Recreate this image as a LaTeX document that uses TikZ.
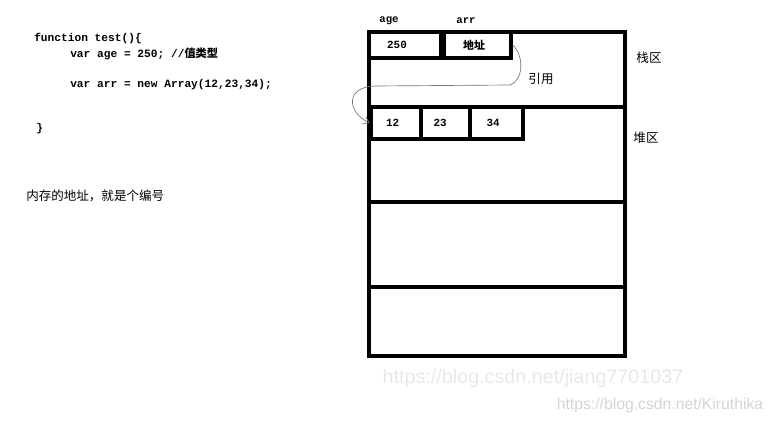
\documentclass[tikz,border=0pt]{standalone}
\usepackage{fontspec}
\setmainfont{Liberation Sans}
\newfontfamily\codefont{Liberation Mono}
\newfontfamily\cjk{Noto Sans CJK SC}
\usetikzlibrary{arrows.meta}

\begin{document}
\begin{tikzpicture}[x=0.75pt, y=-0.75pt,
    wall/.style={line width=2.6pt},
    cell/.style={draw=black, line width=2.4pt, inner sep=0pt, minimum height=19.5pt,
        font=\codefont\bfseries\fontsize{8.2}{9}\selectfont},
    code/.style={anchor=west, inner sep=0pt, font=\codefont\bfseries\fontsize{8.4}{10}\selectfont},
    zh/.style={inner sep=0pt, font=\cjk\fontsize{9.4}{11}\selectfont},
    varname/.style={inner sep=0pt, font=\codefont\bfseries\fontsize{8}{9}\selectfont},
    link/.style={draw=black!55, line width=0.5pt, -{Straight Barb[length=4pt,width=6pt]}},
    wm/.style={inner sep=0pt, font=\fontsize{14.8}{17}\selectfont, text=black!9}]
    \useasboundingbox (0,0) rectangle (773,424);

    % source code
    \node[code] (fn) at (34,39) {function test()\{};
    \node[code] (age line) at (70,54) {var age = 250; //{\cjk 值类型}};
    \node[code] (arr line) at (70,85) {var arr = new Array(12,23,34);};
    \node[code] (close) at (36,129) {\}};
    \node[zh, anchor=west] (note) at (26,196) {内存的地址，就是个编号};

    % memory
    \draw[wall] (369,32) rectangle (625,107);
    \draw[wall] (369,107) rectangle (625,202);
    \draw[wall] (369,202) rectangle (625,287);
    \draw[wall] (369,287) rectangle (625,356);

    \node[cell, minimum width=54pt] (v250) at (405,45) {250\kern12pt};
    \node[cell, minimum width=50.25pt] (addr) at (477.5,45) {{\cjk 地址}\kern5pt};
    \node[cell, minimum width=37.5pt, minimum height=24pt] (v12) at (396,123) {12\kern5pt};
    \node[cell, minimum width=36.75pt, minimum height=24pt] (v23) at (445.5,123) {23\kern8pt};
    \node[cell, minimum width=39.75pt, minimum height=24pt] (v34) at (496.5,123) {34\kern5pt};

    \node[varname] (age) at (389,21) {age};
    \node[varname] (arr) at (466,21) {arr};
    \node[zh] (stack) at (649,58) {栈区};
    \node[zh] (ref) at (541,79) {引用};
    \node[zh] (heap) at (646,138) {堆区};

    % reference arrow
    \draw[link] (addr.east) .. controls (524,55) and (524,80) .. (510,85)
        -- (375,86) .. controls (345,87) and (347,112) .. (v12.west);

    % watermarks
    \node[wm] (wm1) at (533,378) {https://blog.csdn.net/jiang7701037};
    \node[wm, font=\fontsize{11.8}{14}\selectfont, text=black!17] (wm2) at (660,405) {https://blog.csdn.net/Kiruthika};
\end{tikzpicture}
\end{document}
